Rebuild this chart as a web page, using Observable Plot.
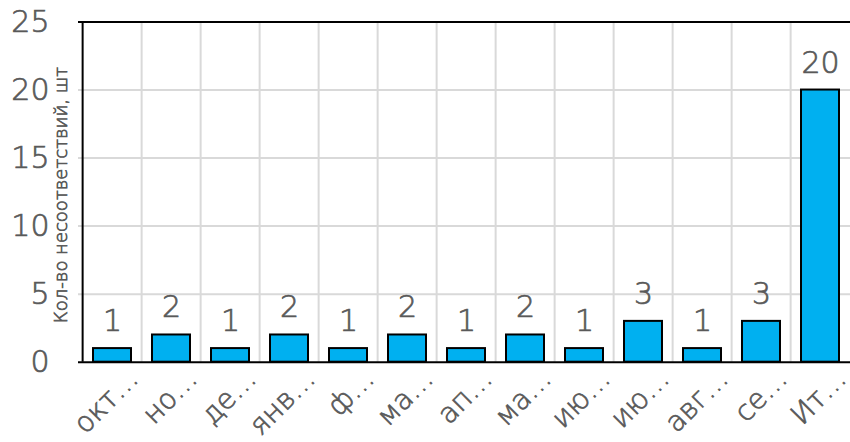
<!DOCTYPE html>
<html>
<head>
<meta charset="utf-8">
<script src="https://cdn.jsdelivr.net/npm/d3@7"></script>
<script src="https://cdn.jsdelivr.net/npm/@observablehq/plot@0.6"></script>
<style>
  html, body { margin: 0; padding: 0; background: #fff; overflow: hidden; }
  #chart svg text { stroke: #595959; stroke-width: 0.7px; }
</style>
</head>
<body>
<div id="chart"></div>
<script>
const categories = ["октябрь", "ноябрь", "декабрь", "январь", "февраль", "март", "апрель", "май", "июнь", "июль", "август", "сентябрь", "Итого"];
const tickLabels = ["окт…", "но…", "де…", "янв…", "ф…", "ма…", "ап…", "ма…", "ию…", "ию…", "авг…", "се…", "Ит…"];
const values = [1, 2, 1, 2, 1, 2, 1, 2, 1, 3, 1, 3, 20];
const yTicks = [0, 5, 10, 15, 20, 25];
const gridTicks = [5, 10, 15, 20];
const yTitle = "Кол-во несоответствий, шт";

const data = categories.map((c, i) => ({category: c, value: values[i], label: tickLabels[i]}));

const W = 850, H = 442;
const mLeft = 78, mRight = -4.75;
const step = (W - mLeft - mRight) / categories.length;
const textColor = "#595959";
const font = "'Century Gothic', 'DejaVu Sans', sans-serif";

const chart = Plot.plot({
  width: W,
  height: H,
  marginLeft: mLeft,
  marginRight: mRight,
  marginTop: 21.5,
  marginBottom: 80.3,
  style: {fontFamily: font, background: "#fff", fontWeight: 200, overflow: "hidden"},
  x: {domain: categories, paddingInner: 0.35, paddingOuter: 0.175, axis: null},
  y: {domain: [0, 25], axis: null},
  marks: [
    Plot.ruleY(gridTicks, {stroke: "#d9d9d9", strokeWidth: 2}),
    Plot.ruleX(categories.slice(1), {stroke: "#d9d9d9", strokeWidth: 2, dx: -step / 2}),
    Plot.barY(data, {x: "category", y: "value", fill: "#00B0F0", stroke: "#000", strokeWidth: 2}),
    Plot.ruleY([0], {stroke: "#000", strokeWidth: 2}),
    Plot.ruleY([25], {stroke: "#000", strokeWidth: 2}),
    Plot.ruleX([categories[0]], {stroke: "#000", strokeWidth: 2, dx: -step / 2}),
    Plot.text(data, {x: "category", y: "value", text: d => String(d.value), lineAnchor: "bottom", dy: -17.5, fontSize: 30, fill: textColor}),
    Plot.axisY(yTicks, {tickSize: 0, tickPadding: 29, fontSize: 30, color: textColor, label: null}),
    Plot.text([yTitle], {frameAnchor: "left", text: d => d, rotate: -90, textAnchor: "middle", lineAnchor: "bottom", dx: -12, dy: 3, fontSize: 18, fill: textColor}),
    Plot.text(data, {x: "category", y: d => 0, text: "label", rotate: -45, textAnchor: "end", lineAnchor: "middle", dx: 21, dy: 12, fontSize: 28, fill: textColor})
  ]
});
document.getElementById("chart").appendChild(chart);
</script>
</body>
</html>
